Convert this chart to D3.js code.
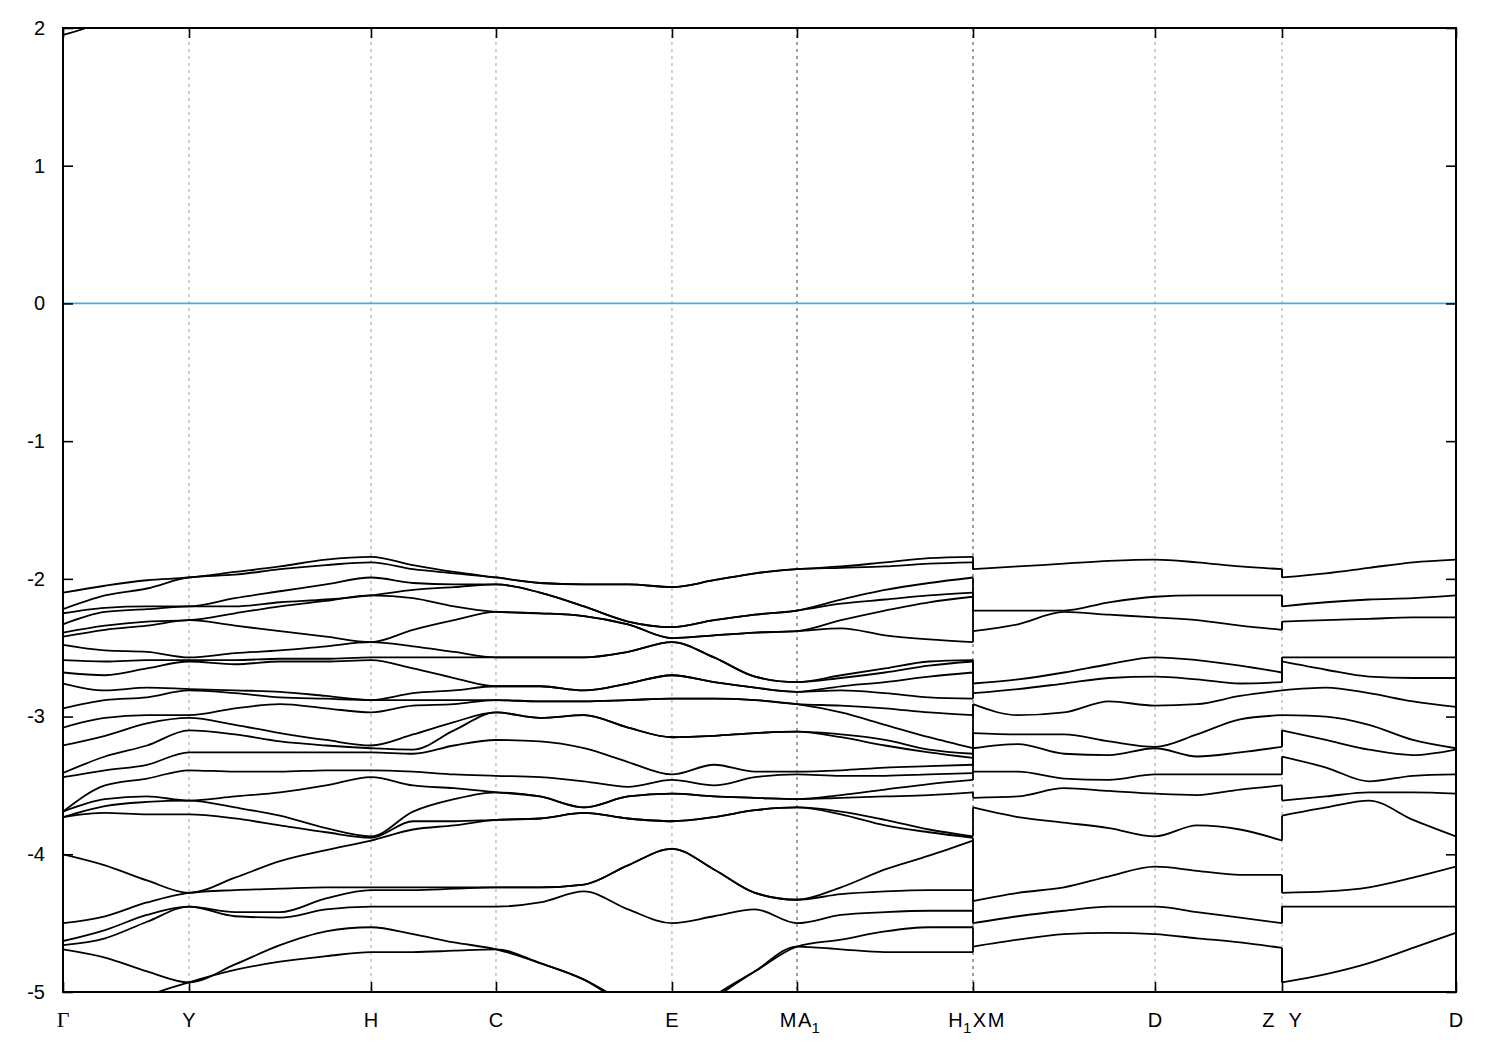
<!DOCTYPE html>
<html>
<head>
<meta charset="utf-8">
<script src="https://cdn.jsdelivr.net/npm/d3@7"></script>
<style>
  body { margin: 0; background: #ffffff; }
  svg { display: block; }
</style>
</head>
<body>
<svg id="chart" width="1500" height="1050"></svg>
<script>
// ---------------- DATA ----------------
// high-symmetry points along the k-path (path length, arbitrary origin)
const kTicks = [0, 0.2714, 0.6633, 0.9325, 1.3115, 1.5807, 1.9598, 2.3517, 2.6253, 3.0];
const kTickLabels = ["Γ", "Y", "H", "C", "E", "M|A_1", "H_1|X|M", "D", "Z|Y", "D"];
const yTicks = [-5, -4, -3, -2, -1, 0, 1, 2];

// Piece A : Γ – Y – H – C – E – M|A1 – H1  (25 bands, energies per k sample)
const kColsA = [0, 0.0905, 0.1809, 0.2714, 0.3704, 0.4673, 0.5664, 0.6633, 0.7538, 0.8421,
                0.9325, 1.0273, 1.1220, 1.2168, 1.3115, 1.4020, 1.4903, 1.5807, 1.6755, 1.7703,
                1.8650, 1.9598];
const energiesA = [
  [-2.10,-2.22,-2.25,-2.33,-2.39,-2.42,-2.48,-2.59,-2.68,-2.76,-2.94,-3.08,-3.21,-3.41,-3.44,-3.69,-3.69,-3.73,-3.73,-4.00,-4.50,-4.63,-4.66,-4.69,-5.35],
  [-2.05,-2.12,-2.21,-2.24,-2.34,-2.37,-2.52,-2.60,-2.70,-2.81,-2.88,-3.01,-3.14,-3.29,-3.39,-3.50,-3.60,-3.65,-3.70,-4.08,-4.45,-4.55,-4.61,-4.75,-5.19],
  [-2.01,-2.07,-2.20,-2.22,-2.31,-2.34,-2.53,-2.59,-2.65,-2.79,-2.86,-2.99,-3.05,-3.21,-3.35,-3.45,-3.58,-3.62,-3.71,-4.19,-4.35,-4.44,-4.49,-4.85,-5.03],
  [-1.99,-1.99,-2.20,-2.20,-2.30,-2.30,-2.57,-2.59,-2.60,-2.80,-2.81,-2.99,-3.01,-3.10,-3.26,-3.39,-3.61,-3.61,-3.71,-4.28,-4.28,-4.38,-4.38,-4.93,-4.93],
  [-1.95,-1.97,-2.14,-2.20,-2.25,-2.34,-2.54,-2.59,-2.62,-2.81,-2.83,-2.94,-3.06,-3.13,-3.26,-3.40,-3.58,-3.66,-3.74,-4.17,-4.26,-4.42,-4.45,-4.80,-4.84],
  [-1.91,-1.93,-2.09,-2.17,-2.20,-2.38,-2.52,-2.58,-2.60,-2.82,-2.86,-2.91,-3.12,-3.18,-3.26,-3.40,-3.55,-3.72,-3.79,-4.05,-4.25,-4.42,-4.46,-4.66,-4.78],
  [-1.86,-1.90,-2.04,-2.15,-2.16,-2.42,-2.49,-2.58,-2.60,-2.85,-2.87,-2.94,-3.17,-3.21,-3.26,-3.39,-3.50,-3.81,-3.84,-3.97,-4.24,-4.32,-4.40,-4.56,-4.74],
  [-1.84,-1.88,-1.99,-2.12,-2.12,-2.46,-2.46,-2.57,-2.59,-2.88,-2.88,-2.97,-3.21,-3.23,-3.26,-3.39,-3.44,-3.87,-3.88,-3.90,-4.24,-4.26,-4.38,-4.53,-4.71],
  [-1.90,-1.93,-2.03,-2.08,-2.14,-2.37,-2.49,-2.57,-2.65,-2.83,-2.88,-2.92,-3.13,-3.24,-3.27,-3.40,-3.50,-3.69,-3.76,-3.82,-4.24,-4.26,-4.38,-4.58,-4.71],
  [-1.95,-1.96,-2.04,-2.06,-2.20,-2.30,-2.53,-2.57,-2.72,-2.81,-2.88,-2.91,-3.04,-3.10,-3.21,-3.42,-3.52,-3.60,-3.76,-3.79,-4.24,-4.25,-4.38,-4.64,-4.70],
  [-1.99,-1.99,-2.04,-2.04,-2.24,-2.24,-2.57,-2.57,-2.78,-2.78,-2.88,-2.88,-2.97,-2.97,-3.17,-3.43,-3.55,-3.55,-3.75,-3.75,-4.24,-4.24,-4.38,-4.69,-4.69],
  [-2.03,-2.03,-2.10,-2.10,-2.25,-2.25,-2.57,-2.57,-2.78,-2.78,-2.89,-2.89,-3.01,-3.01,-3.18,-3.44,-3.58,-3.58,-3.74,-3.74,-4.24,-4.24,-4.35,-4.79,-4.79],
  [-2.04,-2.04,-2.20,-2.20,-2.27,-2.27,-2.57,-2.57,-2.81,-2.81,-2.89,-2.89,-2.99,-2.99,-3.23,-3.47,-3.66,-3.66,-3.70,-3.70,-4.22,-4.22,-4.27,-4.91,-4.91],
  [-2.04,-2.04,-2.31,-2.31,-2.33,-2.33,-2.53,-2.53,-2.76,-2.76,-2.88,-2.88,-3.08,-3.08,-3.33,-3.51,-3.58,-3.58,-3.74,-3.74,-4.08,-4.08,-4.40,-5.09,-5.11],
  [-2.06,-2.06,-2.35,-2.35,-2.43,-2.43,-2.46,-2.46,-2.70,-2.70,-2.87,-2.87,-3.15,-3.15,-3.42,-3.46,-3.56,-3.56,-3.76,-3.76,-3.96,-3.96,-4.50,-5.27,-5.29],
  [-2.01,-2.01,-2.30,-2.30,-2.41,-2.41,-2.57,-2.57,-2.75,-2.75,-2.87,-2.87,-3.14,-3.14,-3.35,-3.50,-3.58,-3.58,-3.73,-3.73,-4.11,-4.11,-4.45,-5.03,-5.05],
  [-1.96,-1.96,-2.26,-2.26,-2.39,-2.39,-2.71,-2.71,-2.79,-2.79,-2.88,-2.88,-3.12,-3.12,-3.40,-3.44,-3.59,-3.59,-3.68,-3.68,-4.28,-4.28,-4.40,-4.85,-4.85],
  [-1.93,-1.93,-2.23,-2.23,-2.38,-2.38,-2.75,-2.75,-2.82,-2.82,-2.91,-2.91,-3.11,-3.11,-3.40,-3.42,-3.60,-3.60,-3.66,-3.66,-4.33,-4.33,-4.50,-4.67,-4.67],
  [-1.91,-1.92,-2.15,-2.18,-2.30,-2.36,-2.70,-2.72,-2.78,-2.81,-2.92,-2.97,-3.13,-3.15,-3.39,-3.43,-3.57,-3.59,-3.69,-3.71,-4.24,-4.29,-4.44,-4.62,-4.69],
  [-1.88,-1.91,-2.08,-2.15,-2.23,-2.41,-2.65,-2.68,-2.75,-2.83,-2.94,-3.06,-3.17,-3.21,-3.37,-3.43,-3.53,-3.58,-3.75,-3.79,-4.11,-4.27,-4.42,-4.56,-4.71],
  [-1.85,-1.89,-2.03,-2.12,-2.17,-2.44,-2.60,-2.63,-2.71,-2.86,-2.97,-3.15,-3.24,-3.26,-3.36,-3.42,-3.49,-3.57,-3.82,-3.84,-4.01,-4.26,-4.41,-4.53,-4.71],
  [-1.84,-1.88,-1.99,-2.10,-2.13,-2.46,-2.59,-2.60,-2.68,-2.87,-2.99,-3.23,-3.27,-3.30,-3.35,-3.41,-3.46,-3.55,-3.87,-3.88,-3.90,-4.26,-4.41,-4.53,-4.71]
];
// conduction band visible near Γ (first four k samples of piece A)
const upperBandE = [1.95, 2.07, 2.35, 2.60];

// Piece B : X – D – Z   (14 distinct, mostly doubly degenerate lines)
const kColsB = [1.9598, 2.0567, 2.1557, 2.2527, 2.3517, 2.4422, 2.5348, 2.6253];
const energiesB = [
  [-1.93,-2.23,-2.38,-2.76,-2.83,-2.91,-3.12,-3.23,-3.40,-3.59,-3.66,-4.34,-4.50,-4.67],
  [-1.91,-2.23,-2.33,-2.73,-2.80,-2.99,-3.13,-3.20,-3.40,-3.58,-3.73,-4.28,-4.45,-4.62],
  [-1.89,-2.23,-2.24,-2.68,-2.76,-2.97,-3.13,-3.27,-3.45,-3.52,-3.77,-4.24,-4.41,-4.58],
  [-1.87,-2.17,-2.26,-2.62,-2.72,-2.89,-3.18,-3.28,-3.46,-3.54,-3.81,-4.16,-4.38,-4.57],
  [-1.86,-2.13,-2.28,-2.57,-2.71,-2.92,-3.22,-3.23,-3.42,-3.56,-3.87,-4.09,-4.38,-4.58],
  [-1.88,-2.12,-2.30,-2.59,-2.73,-2.91,-3.13,-3.29,-3.42,-3.57,-3.79,-4.12,-4.42,-4.61],
  [-1.91,-2.12,-2.34,-2.63,-2.76,-2.85,-3.02,-3.26,-3.42,-3.53,-3.82,-4.15,-4.46,-4.64],
  [-1.93,-2.12,-2.37,-2.68,-2.75,-2.81,-2.99,-3.22,-3.42,-3.50,-3.90,-4.15,-4.50,-4.68]
];
// Piece C : Y – D
const kColsC = [2.6253, 2.7200, 2.8126, 2.9074, 3.0];
const energiesC = [
  [-1.99,-2.20,-2.31,-2.57,-2.60,-2.81,-2.99,-3.10,-3.29,-3.61,-3.72,-4.28,-4.38,-4.93],
  [-1.96,-2.17,-2.30,-2.57,-2.66,-2.79,-3.00,-3.17,-3.37,-3.58,-3.66,-4.27,-4.38,-4.87],
  [-1.92,-2.15,-2.29,-2.57,-2.71,-2.83,-3.06,-3.24,-3.47,-3.55,-3.61,-4.24,-4.38,-4.79],
  [-1.88,-2.14,-2.28,-2.57,-2.72,-2.89,-3.17,-3.28,-3.43,-3.55,-3.75,-4.17,-4.38,-4.68],
  [-1.86,-2.12,-2.28,-2.57,-2.72,-2.93,-3.23,-3.24,-3.42,-3.56,-3.87,-4.09,-4.38,-4.57]
];
// degeneracy of each distinct line in pieces B and C
const degeneracyBC = [2,2,2,2,2,2,2,2,1,1,1,2,2,2];

// ---------------- CHART ----------------
const svg = d3.select("#chart");
const plotL = 63, plotR = 1456, plotT = 28, plotB = 992;
const FONT = "'Liberation Sans', Arial, Helvetica, sans-serif";

const x = d3.scaleLinear().domain([kTicks[0], kTicks[kTicks.length - 1]]).range([plotL, plotR]);
const y = d3.scaleLinear().domain([-5, 2]).range([plotB, plotT]);

svg.append("rect").attr("width", 1500).attr("height", 1050).attr("fill", "#fff");
svg.append("defs").append("clipPath").attr("id", "clip")
  .append("rect").attr("x", plotL).attr("y", plotT)
  .attr("width", plotR - plotL).attr("height", plotB - plotT);

// vertical dashed lines at high-symmetry points
svg.append("g").selectAll("line").data(kTicks.slice(1, -1)).join("line")
  .attr("x1", d => x(d)).attr("x2", d => x(d))
  .attr("y1", plotT).attr("y2", plotB)
  .attr("stroke", "#a0a0a0").attr("stroke-width", (d, i) => (i === 4 || i === 5) ? 2 : 1)
  .attr("stroke-dasharray", "3,4");

// Fermi level
svg.append("line")
  .attr("x1", plotL).attr("x2", plotR).attr("y1", y(0)).attr("y2", y(0))
  .attr("stroke", "#4aa8e4").attr("stroke-width", 1.8);

const transpose = cols => cols[0].map((_, i) => cols.map(c => c[i]));
const expand = col => col.flatMap((v, i) => d3.range(degeneracyBC[i]).map(() => v));
const line = d3.line().x(d => x(d[0])).y(d => y(d[1])).curve(d3.curveMonotoneX);

const gb = svg.append("g").attr("clip-path", "url(#clip)")
  .attr("fill", "none").attr("stroke", "#000").attr("stroke-width", 1.8)
  .attr("stroke-linejoin", "round");

const bandsA = transpose(energiesA).map(vals => vals.map((v, j) => [kColsA[j], v]));
const bandsB = transpose(energiesB).map(vals => vals.map((v, j) => [kColsB[j], v]));
const bandsC = transpose(energiesC).map(vals => vals.map((v, j) => [kColsC[j], v]));
const upper = upperBandE.map((v, j) => [kColsA[j], v]);

gb.selectAll("path.a").data(bandsA).join("path").attr("class", "a").attr("d", line);
gb.selectAll("path.b").data(bandsB).join("path").attr("class", "b").attr("d", line);
gb.selectAll("path.c").data(bandsC).join("path").attr("class", "c").attr("d", line);
gb.append("path").attr("d", line(upper));

// vertical connectors at the path discontinuities
const jumps = [
  { k: kColsA[kColsA.length - 1], left: energiesA[energiesA.length - 1], right: expand(energiesB[0]) },
  { k: kColsB[kColsB.length - 1], left: expand(energiesB[energiesB.length - 1]), right: expand(energiesC[0]) }
];
jumps.forEach(j => {
  gb.append("g").selectAll("line").data(d3.range(Math.min(j.left.length, j.right.length))).join("line")
    .attr("x1", x(j.k)).attr("x2", x(j.k))
    .attr("y1", i => y(j.left[i])).attr("y2", i => y(j.right[i]));
});

// axes (ticks inward, mirrored)
function styleAxis(g) {
  g.select(".domain").remove();
  g.selectAll(".tick line").attr("stroke", "#000").attr("stroke-width", 1.6);
  g.selectAll("text").attr("font-family", FONT).attr("font-size", 20).attr("fill", "#000");
}
svg.append("g").attr("transform", `translate(${plotL},0)`)
  .call(d3.axisLeft(y).tickValues(yTicks).tickSizeInner(-10).tickSizeOuter(0).tickPadding(18).tickFormat(d => String(d)))
  .call(styleAxis);
svg.append("g").attr("transform", `translate(${plotR},0)`)
  .call(d3.axisRight(y).tickValues(yTicks).tickSizeInner(-10).tickSizeOuter(0).tickFormat(""))
  .call(styleAxis);
svg.append("g").attr("transform", `translate(0,${plotB})`)
  .call(d3.axisBottom(x).tickValues(kTicks).tickSizeInner(-10).tickSizeOuter(0).tickFormat(""))
  .call(styleAxis);
svg.append("g").attr("transform", `translate(0,${plotT})`)
  .call(d3.axisTop(x).tickValues(kTicks).tickSizeInner(-10).tickSizeOuter(0).tickFormat(""))
  .call(styleAxis);

// frame
svg.append("rect").attr("x", plotL).attr("y", plotT)
  .attr("width", plotR - plotL).attr("height", plotB - plotT)
  .attr("fill", "none").attr("stroke", "#000").attr("stroke-width", 2);

// k-point labels: parts of a combined label are laid out side by side without overlap
const labelBaseline = 1027;
const lg = svg.append("g").attr("font-family", FONT).attr("font-size", 20).attr("fill", "#000");
const gap = 1.5;
kTickLabels.forEach((lab, i) => {
  const parts = lab.split("|");
  const cx0 = x(kTicks[i]);
  const measured = parts.map(p => {
    const [base, sub] = p.split("_");
    const t = lg.append("text").attr("x", 0).attr("y", labelBaseline).attr("text-anchor", "start").text(base);
    if (base === "Γ") t.attr("font-family", "'Liberation Serif', 'Times New Roman', serif").attr("font-size", 22);
    const wb = t.node().getComputedTextLength();
    let s = null, ws = 0;
    if (sub) {
      s = lg.append("text").attr("x", 0).attr("y", labelBaseline + 6).attr("font-size", 15)
        .attr("text-anchor", "start").text(sub);
      ws = s.node().getComputedTextLength();
    }
    return { t, s, wb, ws };
  });
  const extra = (i === 8) ? 14 : gap;
  const total = d3.sum(measured, m => m.wb + m.ws) + extra * (parts.length - 1);
  let start;
  if (parts.length === 1) start = cx0 - measured[0].wb / 2;
  else if (i === 5) start = cx0 - measured[0].wb - 0.5;
  else if (i === 6) start = cx0 - measured[0].wb - measured[0].ws - 2;
  else start = cx0 - total / 2;
  let cur = start;
  measured.forEach(m => {
    m.t.attr("x", cur);
    cur += m.wb;
    if (m.s) { m.s.attr("x", cur + 0.3); cur += m.ws + 0.3; }
    cur += extra;
  });
});
</script>
</body>
</html>
